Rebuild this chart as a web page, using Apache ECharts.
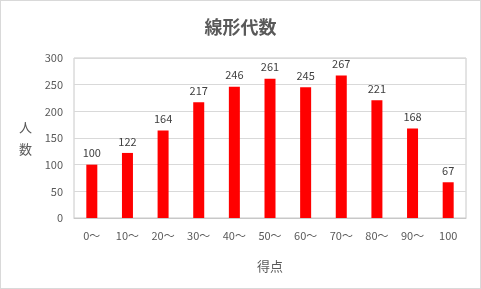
<!DOCTYPE html>
<html><head><meta charset="utf-8">
<script src="https://cdn.jsdelivr.net/npm/echarts@6/dist/echarts.min.js"></script>
<style>
html,body{margin:0;padding:0;background:#fff;}
#c{width:479px;height:287px;border:1px solid #d9d9d9;}
</style></head>
<body><div id="c"></div>
<script>
const categories = ['0～','10～','20～','30～','40～','50～','60～','70～','80～','90～','100'];
const counts = [100,122,164,217,246,261,245,267,221,168,67];
const yTicks = [0,50,100,150,200,250,300];
const F = '"Noto Sans CJK JP", "Noto Sans", sans-serif';
const chart = echarts.init(document.getElementById('c'));
chart.setOption({
  animation:false,
  textStyle:{fontFamily:F},
  title:{text:'線形代数',left:'center',top:12,textStyle:{fontSize:18,fontWeight:'bold',color:'#595959',fontFamily:F}},
  grid:{left:73,right:14,top:57,bottom:70,show:true,borderColor:'#c8c8c8',borderWidth:1},
  xAxis:{type:'category',data:categories,name:'得点',nameLocation:'middle',nameGap:42,
    nameTextStyle:{fontSize:13,color:'#595959',fontFamily:F},
    axisLine:{lineStyle:{color:'#c8c8c8'}},axisTick:{show:false},
    axisLabel:{color:'#595959',fontSize:11,margin:12,fontFamily:F}},
  yAxis:{type:'value',min:yTicks[0],max:yTicks[yTicks.length-1],interval:50,
    name:'人\n数',nameLocation:'middle',nameRotate:0,nameGap:42,
    nameTextStyle:{fontSize:13,color:'#595959',lineHeight:22,fontFamily:F},
    axisLine:{show:false},axisTick:{show:false},
    splitLine:{lineStyle:{color:'#d9d9d9'}},
    axisLabel:{color:'#595959',fontSize:11,margin:11,fontFamily:F}},
  series:[{type:'bar',data:counts,barWidth:11,itemStyle:{color:'#ff0000'},
    label:{show:true,position:'top',color:'#404040',fontSize:11,distance:6,fontFamily:F}}]
});
</script></body></html>
